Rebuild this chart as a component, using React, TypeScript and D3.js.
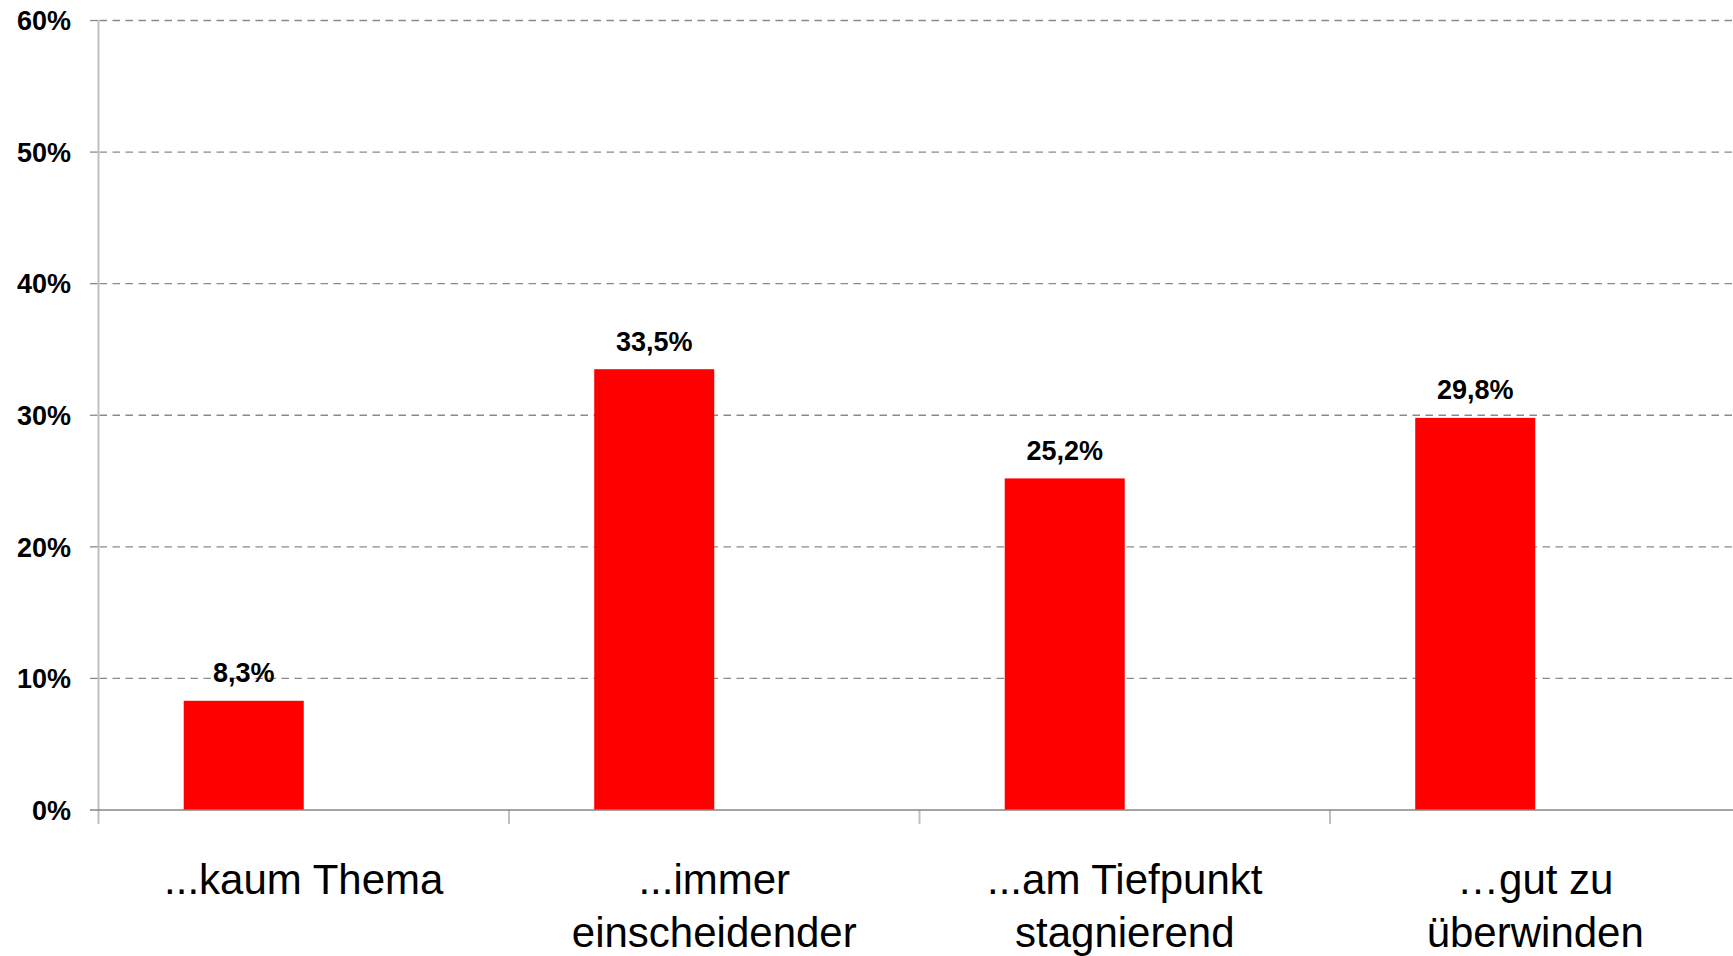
import React from "react";
import * as d3 from "d3";

const categories = ["kaum", "immer", "tief", "gut"];
const categoryLines: string[][] = [
  ["...kaum Thema"],
  ["...immer", "einscheidender"],
  ["...am Tiefpunkt", "stagnierend"],
  ["\u2026gut zu", "überwinden"],
];
const values = [8.3, 33.5, 25.2, 29.8];
const valueLabels = ["8,3%", "33,5%", "25,2%", "29,8%"];
const yTicks = [0, 10, 20, 30, 40, 50, 60];
const seriesKeys = ["s1", "s2"];

const W = 1733;
const H = 956;
const FONT = "'Liberation Sans', Arial, Helvetica, sans-serif";

export default function App() {
  const x0 = 98.5;
  const step = 410.5;
  const x = d3
    .scaleBand<string>()
    .domain(categories)
    .range([x0, x0 + step * categories.length])
    .paddingInner(0)
    .paddingOuter(0);
  const xs = d3
    .scaleBand<string>()
    .domain(seriesKeys)
    .range([0, x.bandwidth()])
    .paddingInner(0)
    .paddingOuter(0.71);
  const y = d3.scaleLinear().domain([0, 60]).range([810, 20.5]);

  const axisColor = "#bfbfbf";
  const gridColor = "#8a8a8a";

  return (
    <svg
      width={W}
      height={H}
      viewBox={`0 0 ${W} ${H}`}
      style={{ position: "absolute", left: 0, top: 0, background: "#fff" }}
      fontFamily={FONT}
    >
      <rect x={0} y={0} width={W} height={H} fill="#fff" />
      {/* gridlines */}
      {yTicks
        .filter((t) => t > 0)
        .map((t) => (
          <g key={`g${t}`}>
            <line
              x1={x0 + 1}
              x2={W}
              y1={y(t)}
              y2={y(t)}
              stroke={gridColor}
              strokeWidth={1.3}
              strokeDasharray="7.5,5.5"
            />
            <line x1={90} x2={x0} y1={y(t)} y2={y(t)} stroke={gridColor} strokeWidth={1.3} />
          </g>
        ))}
      {/* bars */}
      {categories.map((c, i) => (
        <rect
          key={`b${c}`}
          x={(x(c) as number) + (xs("s1") as number)}
          y={y(values[i])}
          width={xs.bandwidth()}
          height={y(0) - y(values[i])}
          fill="#ff0000"
        />
      ))}
      {/* value labels */}
      {categories.map((c, i) => (
        <text
          key={`v${c}`}
          x={(x(c) as number) + (xs("s1") as number) + xs.bandwidth() / 2}
          y={y(values[i]) - 18.5}
          textAnchor="middle"
          fontSize={27}
          fontWeight="bold"
          fill="#000"
        >
          {valueLabels[i]}
        </text>
      ))}
      {/* vertical axis */}
      <line x1={x0} x2={x0} y1={y(60)} y2={824} stroke={axisColor} strokeWidth={2} />
      {/* category ticks */}
      {categories.slice(1).map((c) => (
        <line
          key={`t${c}`}
          x1={x(c) as number}
          x2={x(c) as number}
          y1={y(0)}
          y2={824}
          stroke={axisColor}
          strokeWidth={2}
        />
      ))}
      {/* baseline */}
      <line x1={90} x2={W} y1={y(0)} y2={y(0)} stroke="#868686" strokeWidth={1.5} />
      {/* y tick labels */}
      {yTicks.map((t) => (
        <text
          key={`y${t}`}
          x={71}
          y={y(t)}
          dy="0.36em"
          textAnchor="end"
          fontSize={27}
          fontWeight="bold"
          fill="#000"
        >
          {`${t}%`}
        </text>
      ))}
      {/* category labels */}
      {categories.map((c, i) => (
        <text
          key={`c${c}`}
          x={(x(c) as number) + x.bandwidth() / 2}
          textAnchor="middle"
          fontSize={42}
          fill="#000"
        >
          {categoryLines[i].map((line, j) => (
            <tspan key={j} x={(x(c) as number) + x.bandwidth() / 2} y={893.5 + j * 53.5}>
              {line}
            </tspan>
          ))}
        </text>
      ))}
    </svg>
  );
}
